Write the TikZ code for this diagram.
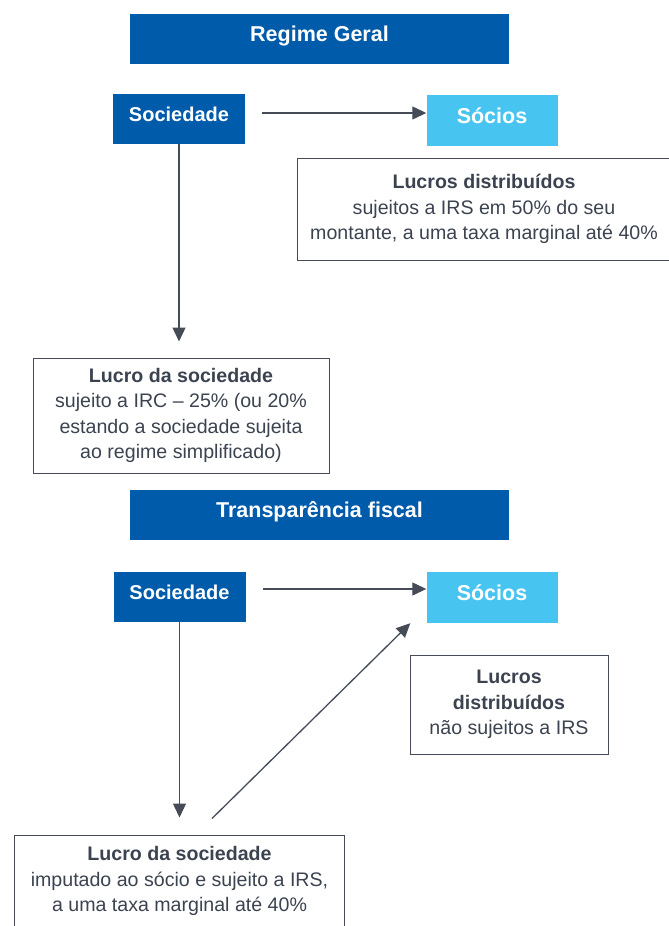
\documentclass[tikz,border=0pt]{standalone}
\usepackage{fontspec}
\setmainfont{Liberation Sans}
\usetikzlibrary{arrows.meta}
\definecolor{darkblue}{HTML}{005BAA}
\definecolor{lightblue}{HTML}{47C5F0}
\definecolor{ink}{HTML}{3B4350}
\definecolor{rulegray}{HTML}{454C58}
\tikzstyle{heading} = [
  fill=darkblue,
  text=white,
  font=\fontsize{21.5}{26}\selectfont\bfseries,
  minimum width=379pt,
  minimum height=50pt,
  text height=15pt,
  text depth=10pt,
  inner sep=0pt,
]
\tikzstyle{company} = [
  heading,
  minimum width=132pt,
  font=\fontsize{20}{24}\selectfont\bfseries,
]
\tikzstyle{partner} = [
  heading,
  fill=lightblue,
  minimum width=131pt,
  minimum height=51pt,
]
\tikzstyle{note} = [
  draw=rulegray,
  line width=1pt,
  text=ink,
  align=center,
  font=\fontsize{19.6}{25.5}\selectfont,
  inner sep=0pt,
]
\tikzstyle{frame} = [
  draw=rulegray,
  line width=1pt,
]
\tikzstyle{flow} = [
  draw=rulegray,
  line width=1.3pt,
  -{Triangle[length=14pt,width=13pt]},
]

\begin{document}
\begin{tikzpicture}[
    x=1pt,
    y=-1pt,
  ]
  \clip (0,0) rectangle (669,926);
  \node[heading] (geral) at (319.5,38.5) {Regime Geral};
  \node[company] (socA) at (179,119) {Sociedade};
  \node[partner] (sociosA) at (492,120.5) {Sócios};
  \node[
    note,
    minimum width=374pt,
    minimum height=102pt,
  ] (lucrosA) at (484,209) {{\bfseries Lucros distribuídos}\\
    sujeitos a IRS em 50\% do seu\\
    montante, a uma taxa marginal até 40\%};
  \node[
    note,
    minimum width=296pt,
    minimum height=115pt,
  ] (lucroA) at (181,415.5) {{\bfseries Lucro da sociedade}\\
    sujeito a IRC -- 25\% (ou 20\%\\
    estando a sociedade sujeita\\
    ao regime simplificado)};

  \node[heading] (transp) at (319.5,515) {Transparência fiscal};
  \node[company] (socB) at (179.5,597) {Sociedade};
  \node[partner] (sociosB) at (492,597.5) {Sócios};
  \node[
    note,
    minimum width=198pt,
    minimum height=99pt,
  ] (lucrosB) at (509,704.5) {{\bfseries Lucros}\\
    {\bfseries distribuídos}\\
    não sujeitos a IRS};
  \node[
    note,
    draw=none,
    minimum width=329pt,
    minimum height=90pt,
  ] (lucroB) at (179.5,881) {{\bfseries Lucro da sociedade}\\
    imputado ao sócio e sujeito a IRS,\\
    a uma taxa marginal até 40\%};
  \draw[frame] ([yshift=-20pt]lucroB.south west) -- (lucroB.north west)
    -- (lucroB.north east) -- ([yshift=-20pt]lucroB.south east);

  \draw[flow] ([xshift=17pt,yshift=6pt]socA.east) -- ([yshift=7.5pt]sociosA.west);
  \draw[flow, shorten >=16pt] (socA.south) -- (socA.south |- lucroA.north);
  \draw[flow] ([xshift=17pt,yshift=8pt]socB.east) -- ([yshift=8.5pt]sociosB.west);
  \draw[flow, shorten >=18pt] (socB.south) -- (socB.south |- lucroB.north);
  \draw[flow] ([xshift=32.5pt,yshift=17pt]lucroB.north) -- ([xshift=-16pt]sociosB.south west);
\end{tikzpicture}
\end{document}
